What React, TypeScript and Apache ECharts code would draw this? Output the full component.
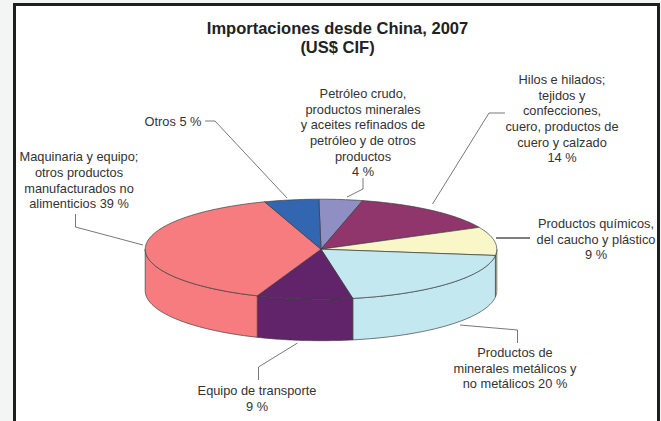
import React, { useEffect, useRef } from "react";
import * as echarts from "echarts";

const categories = [
  "Petróleo crudo,\nproductos minerales\ny aceites refinados de\npetróleo y de otros\nproductos\n4 %",
  "Hilos e hilados;\ntejidos y\nconfecciones,\ncuero, productos de\ncuero y calzado\n14 %",
  "Productos químicos,\ndel caucho y plástico\n9 %",
  "Productos de\nminerales metálicos y\nno metálicos 20 %",
  "Equipo de transporte\n9 %",
  "Maquinaria y equipo;\notros productos\nmanufacturados no\nalimenticios 39 %",
  "Otros 5 %",
];
const shares = [4, 14, 9.2, 20.1, 8.8, 38.9, 5];
const sliceColors = ["#908FC4", "#91366C", "#F9F7C8", "#C3E8F0", "#61246A", "#F67C80", "#3366B0"];
const labelCentres = [
  [363, 85.5],
  [562, 71.5],
  [596, 215.5],
  [515, 344.5],
  [257, 382.5],
  [79, 149],
  [173, 113.5],
];
const leaderLines = [
  [[363, 178], [363, 189], [347, 197]],
  [[505, 113], [489, 113], [432.5, 204]],
  [[496, 238], [530, 238]],
  [[460, 325], [517.5, 330], [517.5, 343]],
  [[258.5, 380], [258.5, 367], [297.5, 343]],
  [[75.5, 214], [75.5, 227], [143, 245]],
  [[205, 121], [215, 121], [287, 198]],
];

const CX = 321;
const CY = 249.2;
const RX = 175.8;
const RY = 50;
const DEPTH = 41.5;
const START = -0.7;
const STROKE = "#3c3c3c";

const total = shares.reduce((a, b) => a + b, 0);

function rim(deg: number, drop = 0): number[] {
  const r = (deg * Math.PI) / 180;
  return [CX + RX * Math.sin(r), CY - RY * Math.cos(r) + drop];
}

function arc(from: number, to: number, drop = 0): number[][] {
  const n = Math.max(2, Math.ceil(Math.abs(to - from)));
  const pts: number[][] = [];
  for (let i = 0; i <= n; i++) pts.push(rim(from + ((to - from) * i) / n, drop));
  return pts;
}

function renderSlice(params: any, api: any) {
  const idx = params.dataIndex;
  let before = 0;
  for (let i = 0; i < idx; i++) before += shares[i];
  const from = START + (before / total) * 360;
  const to = from + (api.value(0) / total) * 360;
  const color = sliceColors[idx];
  const children: any[] = [];
  const wallFrom = Math.max(from, 90);
  const wallTo = Math.min(to, 270);
  if (wallFrom < wallTo) {
    children.push({
      type: "polygon",
      shape: { points: [...arc(wallFrom, wallTo), ...arc(wallTo, wallFrom, DEPTH)] },
      style: { fill: color, stroke: STROKE, lineWidth: 0.7 },
    });
  }
  children.push({
    type: "polygon",
    shape: { points: [[CX, CY], ...arc(from, to)] },
    style: { fill: color, stroke: STROKE, lineWidth: 0.7 },
  });
  return { type: "group", children };
}

export default function App() {
  const ref = useRef<HTMLDivElement>(null);
  useEffect(() => {
    document.body.style.margin = "0";
    const chart = echarts.init(ref.current!, null, { renderer: "svg" });
    const labels = categories.map((text, i) => ({
      type: "text",
      x: labelCentres[i][0],
      y: labelCentres[i][1],
      z: 5,
      style: {
        text,
        fill: "#333333",
        font: '12.8px "Liberation Sans", Arial, sans-serif',
        lineHeight: 15.7,
        align: "center",
        verticalAlign: "top",
      },
    }));
    const lines = leaderLines.map((points, i) => ({
      type: "polyline",
      z: 4,
      shape: { points },
      style: {
        fill: "none",
        stroke: i === 2 ? "#000000" : "#555555",
        lineWidth: i === 2 ? 1.1 : 0.8,
      },
    }));
    chart.setOption({
      animation: false,
      backgroundColor: "#F3F4F4",
      title: {
        text: "Importaciones desde China, 2007\n(US$ CIF)",
        left: 332.5,
        top: 13,
        textAlign: "center",
        textStyle: {
          fontFamily: '"Liberation Sans", Arial, sans-serif',
          fontWeight: "bold",
          fontSize: 16.5,
          lineHeight: 19,
          color: "#222222",
        },
      },
      graphic: [
        {
          type: "rect",
          z: -1,
          shape: { x: 14.5, y: 4.5, width: 644, height: 440 },
          style: { fill: "#FFFFFF", stroke: "#1E1E1E", lineWidth: 3 },
        },
        ...lines,
        ...labels,
      ],
      series: [
        {
          type: "custom",
          coordinateSystem: "none",
          silent: true,
          renderItem: renderSlice,
          data: shares.map((v, i) => ({ name: categories[i], value: [v] })),
        },
      ],
    });
    return () => chart.dispose();
  }, []);
  return <div ref={ref} style={{ width: 661, height: 421 }} />;
}
